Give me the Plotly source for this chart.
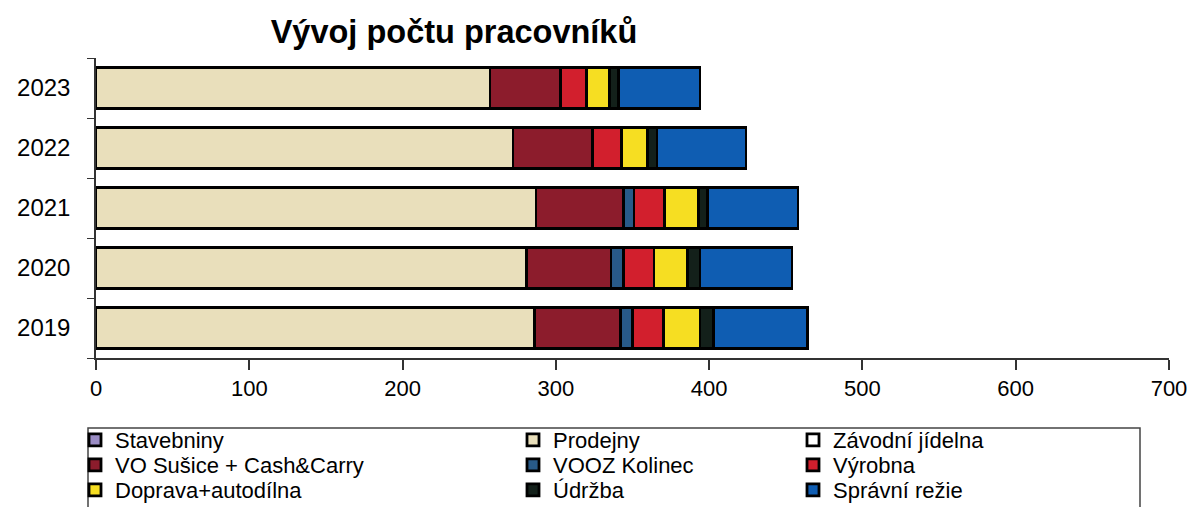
import plotly.graph_objects as go

# Roky (osa Y, odshora dolů 2023 ... 2019)
roky = ["2019", "2020", "2021", "2022", "2023"]

# Počty pracovníků podle úseků
stavebniny = [0, 0, 0, 0, 0]
prodejny = [286, 281, 287, 272, 257]
zavodni_jidelna = [0, 0, 0, 0, 0]
vo_susice = [56, 55, 57, 52, 46]
vooz_kolinec = [8, 8, 7, 0, 0]
vyrobna = [20, 20, 20, 19, 17]
doprava = [24, 22, 22, 17, 15]
udrzba = [9, 8, 6, 6, 6]
spravni_rezie = [61, 60, 59, 58, 53]

x_ticks = [0, 100, 200, 300, 400, 500, 600, 700]

# (název, hodnoty, barva)
serie = [
    ("Stavebniny", stavebniny, "#9a8cc4"),
    ("Prodejny", prodejny, "#e9dfbb"),
    ("Závodní jídelna", zavodni_jidelna, "#ffffff"),
    ("VO Sušice + Cash&Carry", vo_susice, "#8c1c2c"),
    ("VOOZ Kolinec", vooz_kolinec, "#285a88"),
    ("Výrobna", vyrobna, "#d21f2d"),
    ("Doprava+autodílna", doprava, "#f6de22"),
    ("Údržba", udrzba, "#13201a"),
    ("Správní režie", spravni_rezie, "#0f5db2"),
]

# stránka má okraj 8 px, proto je figura o něco menší (bez posuvníku)
W, H = 1191, 499

fig = go.Figure()
for i, (nazev, hodnoty, barva) in enumerate(serie):
    fig.add_trace(go.Bar(
        y=roky, x=hodnoty, name=nazev, orientation="h",
        marker=dict(color=barva, line=dict(color="black", width=2.8)),
        width=0.68, legend="legend" if i == 0 else f"legend{i + 1}",
    ))

# legenda ve třech sloupcích, každá položka zvlášť
font_leg = dict(family="Liberation Sans, Arial, sans-serif", size=22, color="black")
sloupce_x = [67, 505, 785]
radky_y = [432, 457, 482]
legendy = {}
for i in range(len(serie)):
    klic = "legend" if i == 0 else f"legend{i + 1}"
    legendy[klic] = dict(
        xref="container", yref="container",
        x=sloupce_x[i % 3] / W, y=1 - radky_y[i // 3] / H,
        xanchor="left", yanchor="middle", font=font_leg,
        bgcolor="rgba(0,0,0,0)", itemwidth=30, itemclick=False,
    )

fig.update_layout(
    width=W, height=H,
    barmode="stack",
    paper_bgcolor="white", plot_bgcolor="white",
    margin=dict(l=88, r=30, t=50, b=149, autoexpand=False),
    font=dict(family="Liberation Sans, Arial, sans-serif", size=20, color="black"),
    title=dict(text="<b>Vývoj počtu pracovníků</b>", x=446 / W, xanchor="center",
               y=1 - 24 / H, yanchor="middle",
               font=dict(size=32.5, family="Liberation Sans, Arial, sans-serif")),
    xaxis=dict(range=[0, 700], tickvals=x_ticks, showgrid=False, zeroline=False,
               showline=True, linecolor="#333", linewidth=2,
               ticks="outside", ticklen=10, tickcolor="#333", tickwidth=1.5,
               tickfont=dict(size=22)),
    yaxis=dict(range=[-0.5, 4.5], showgrid=False, zeroline=False,
               showline=True, linecolor="#333", linewidth=1.5,
               ticks="outside", tickson="boundaries", ticklen=7, tickcolor="#333",
               tickfont=dict(size=24), ticklabelstandoff=19),
    showlegend=True,
    **legendy,
)

# rámeček legendy
fig.add_shape(type="rect", xref="paper", yref="paper",
              x0=(88 - 96) / 1073, x1=(1140 - 96) / 1073,
              y0=(358 - 428) / 300, y1=(358 - 530) / 300,
              line=dict(color="#444", width=1.5), fillcolor="rgba(0,0,0,0)")

fig.write_html("out.html")
